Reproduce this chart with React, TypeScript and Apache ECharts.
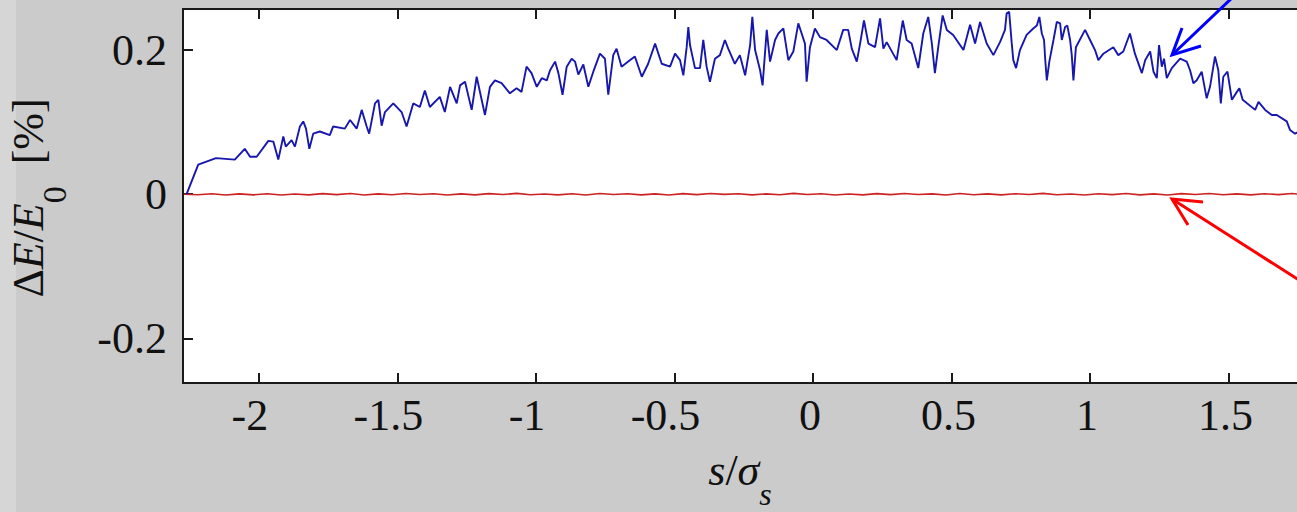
import React, { useEffect, useRef } from "react";
import * as echarts from "echarts";

const xTicks = [-2, -1.5, -1, -0.5, 0, 0.5, 1, 1.5];
const yTicks = [-0.2, 0, 0.2];

const blueX = [
  -2.261, -2.219, -2.155, -2.087, -2.051, -2.032, -2.008, -1.966, -1.948, -1.93,
  -1.912, -1.903, -1.882, -1.87, -1.852, -1.84, -1.83, -1.818, -1.804, -1.78,
  -1.744, -1.732, -1.69, -1.671, -1.647, -1.629, -1.611, -1.602, -1.581, -1.569,
  -1.557, -1.545, -1.515, -1.485, -1.467, -1.443, -1.419, -1.401, -1.383, -1.347,
  -1.329, -1.31, -1.286, -1.274, -1.256, -1.232, -1.214, -1.196, -1.184, -1.166,
  -1.148, -1.124, -1.094, -1.07, -1.052, -1.034, -1.016, -0.997, -0.979, -0.961,
  -0.949, -0.931, -0.919, -0.904, -0.889, -0.871, -0.859, -0.847, -0.829, -0.811,
  -0.793, -0.769, -0.751, -0.739, -0.721, -0.709, -0.691, -0.667, -0.643, -0.618,
  -0.595, -0.57, -0.546, -0.516, -0.498, -0.48, -0.468, -0.456, -0.45, -0.444,
  -0.426, -0.408, -0.396, -0.384, -0.372, -0.354, -0.336, -0.318, -0.306, -0.282,
  -0.264, -0.245, -0.227, -0.219, -0.209, -0.191, -0.182, -0.167, -0.155, -0.137,
  -0.125, -0.107, -0.089, -0.071, -0.053, -0.041, -0.029, -0.023, -0.011, 0.007,
  0.025, 0.049, 0.086, 0.109, 0.127, 0.14, 0.158, 0.17, 0.184, 0.2,
  0.224, 0.242, 0.254, 0.266, 0.302, 0.324, 0.338, 0.356, 0.38, 0.398,
  0.416, 0.429, 0.44, 0.452, 0.468, 0.483, 0.506, 0.543, 0.567, 0.585,
  0.603, 0.627, 0.651, 0.675, 0.693, 0.699, 0.708, 0.717, 0.723, 0.733,
  0.747, 0.771, 0.795, 0.808, 0.817, 0.826, 0.834, 0.838, 0.844, 0.853,
  0.868, 0.88, 0.892, 0.898, 0.91, 0.918, 0.928, 0.934, 0.94, 0.949,
  0.982, 1.0, 1.018, 1.03, 1.048, 1.084, 1.102, 1.12, 1.144, 1.162,
  1.187, 1.199, 1.217, 1.229, 1.241, 1.249, 1.259, 1.267, 1.277, 1.295,
  1.325, 1.349, 1.361, 1.373, 1.385, 1.403, 1.421, 1.433, 1.451, 1.463,
  1.472, 1.481, 1.496, 1.512, 1.53, 1.539, 1.551, 1.596, 1.608, 1.632,
  1.656, 1.674, 1.71, 1.722, 1.74, 1.758,
];

const blueY = [
  0.0, 0.041, 0.05, 0.048, 0.063, 0.052, 0.052, 0.074, 0.073, 0.048,
  0.08, 0.066, 0.075, 0.066, 0.094, 0.101, 0.091, 0.063, 0.084, 0.087,
  0.082, 0.094, 0.091, 0.103, 0.091, 0.117, 0.094, 0.084, 0.126, 0.131,
  0.095, 0.114, 0.126, 0.114, 0.094, 0.126, 0.121, 0.144, 0.121, 0.135,
  0.114, 0.149, 0.126, 0.151, 0.156, 0.117, 0.163, 0.131, 0.11, 0.149,
  0.158, 0.154, 0.14, 0.147, 0.142, 0.177, 0.168, 0.149, 0.161, 0.158,
  0.172, 0.184, 0.168, 0.138, 0.177, 0.188, 0.184, 0.166, 0.18, 0.149,
  0.17, 0.195, 0.188, 0.138, 0.193, 0.202, 0.177, 0.184, 0.191, 0.163,
  0.181, 0.209, 0.181, 0.177, 0.195, 0.186, 0.165, 0.204, 0.232, 0.207,
  0.175, 0.175, 0.214, 0.177, 0.156, 0.188, 0.193, 0.214, 0.202, 0.181,
  0.193, 0.165, 0.207, 0.246, 0.2, 0.172, 0.151, 0.228, 0.184, 0.214,
  0.223, 0.23, 0.186, 0.198, 0.237, 0.223, 0.209, 0.156, 0.204, 0.23,
  0.218, 0.214, 0.2, 0.228, 0.228, 0.202, 0.184, 0.209, 0.241, 0.209,
  0.204, 0.244, 0.202, 0.211, 0.186, 0.241, 0.214, 0.209, 0.175, 0.223,
  0.246, 0.209, 0.168, 0.204, 0.248, 0.228, 0.221, 0.2, 0.235, 0.209,
  0.239, 0.209, 0.193, 0.211, 0.228, 0.251, 0.253, 0.211, 0.186, 0.175,
  0.2, 0.221, 0.23, 0.234, 0.246, 0.223, 0.214, 0.188, 0.158, 0.184,
  0.214, 0.239, 0.237, 0.214, 0.232, 0.234, 0.214, 0.193, 0.158, 0.204,
  0.228, 0.214, 0.2, 0.186, 0.195, 0.204, 0.193, 0.198, 0.223, 0.195,
  0.168, 0.186, 0.198, 0.17, 0.161, 0.207, 0.177, 0.188, 0.161, 0.175,
  0.188, 0.184, 0.172, 0.154, 0.158, 0.17, 0.133, 0.149, 0.191, 0.172,
  0.126, 0.163, 0.17, 0.131, 0.142, 0.147, 0.131, 0.117, 0.128, 0.117,
  0.11, 0.11, 0.101, 0.089, 0.084, 0.088,
];

const redX = [
  -2.27, -2.22, -2.17, -2.12, -2.07, -2.02, -1.97, -1.92, -1.87, -1.82,
  -1.77, -1.72, -1.67, -1.62, -1.57, -1.52, -1.47, -1.42, -1.37, -1.32,
  -1.27, -1.22, -1.17, -1.12, -1.07, -1.02, -0.97, -0.92, -0.87, -0.82,
  -0.77, -0.72, -0.67, -0.62, -0.57, -0.52, -0.47, -0.42, -0.37, -0.32,
  -0.27, -0.22, -0.17, -0.12, -0.07, -0.02, 0.03, 0.08, 0.13, 0.18,
  0.23, 0.28, 0.33, 0.38, 0.43, 0.48, 0.53, 0.58, 0.63, 0.68,
  0.73, 0.78, 0.83, 0.88, 0.93, 0.98, 1.03, 1.08, 1.13, 1.18,
  1.23, 1.28, 1.33, 1.38, 1.43, 1.48, 1.53, 1.58, 1.63, 1.68,
  1.73, 1.78,
];

const redY = [
  0.0, -0.0008, 0.0006, -0.0012, 0.0004, -0.0009, 0.0007, -0.0011, 0.0003, -0.001,
  0.0008, -0.0006, 0.0009, -0.0012, 0.0005, -0.0008, 0.001, -0.0004, 0.0007, -0.0011,
  0.0004, -0.0009, 0.0008, -0.0005, 0.0011, -0.0007, 0.0003, -0.001, 0.0006, -0.0012,
  0.0009, -0.0004, 0.0007, -0.0009, 0.0005, -0.0011, 0.0008, -0.0006, 0.001, -0.0003,
  0.0006, -0.001, 0.0004, -0.0008, 0.0011, -0.0005, 0.0007, -0.0012, 0.0003, -0.0009,
  0.0008, -0.0006, 0.001, -0.0004, 0.0005, -0.0011, 0.0009, -0.0007, 0.0004, -0.001,
  0.0007, -0.0005, 0.0011, -0.0008, 0.0003, -0.0012, 0.0006, -0.0006, 0.0009, -0.0009,
  0.0005, -0.0011, 0.0008, -0.0004, 0.001, -0.0007, 0.0004, -0.001, 0.0007, -0.0006,
  0.0009, -0.0008,
];

const FONT = "'Liberation Serif', 'Times New Roman', serif";
const INK = "#111111";

export default function App() {
  const ref = useRef<HTMLDivElement>(null);

  useEffect(() => {
    if (!ref.current) return;
    const chart = echarts.init(ref.current, null, { renderer: "svg" });

    const axisLineStyle = { color: "#1a1a1a", width: 2 };
    const tickStyle = { color: "#1a1a1a", width: 2 };

    chart.setOption({
      animation: false,
      backgroundColor: "#cbcbcb",
      grid: {
        left: 183,
        right: 0,
        top: 9,
        bottom: 129,
        show: true,
        backgroundColor: "#ffffff",
        borderWidth: 0,
      },
      xAxis: [
        {
          type: "value",
          min: -2.274,
          max: 1.747,
          position: "bottom",
          axisLine: { show: true, onZero: false, lineStyle: axisLineStyle },
          axisTick: { show: true, inside: true, length: 10, customValues: xTicks, lineStyle: tickStyle },
          axisLabel: {
            customValues: xTicks,
            margin: 10,
            fontSize: 44,
            fontFamily: FONT,
            color: INK,
            formatter: (v: number) => (v < 0 ? `{t|${v}}{n| }` : `{t|${v}}{p| }`),
            rich: {
              t: { fontSize: 44, fontFamily: FONT, color: INK },
              n: { fontSize: 44, fontFamily: FONT, width: 18 },
              p: { fontSize: 44, fontFamily: FONT, width: 6 },
            },
          },
          splitLine: { show: false },
        },
        {
          type: "value",
          min: -2.274,
          max: 1.747,
          position: "top",
          axisLine: { show: true, onZero: false, lineStyle: axisLineStyle },
          axisTick: { show: true, inside: true, length: 10, customValues: xTicks, lineStyle: tickStyle },
          axisLabel: { show: false },
          splitLine: { show: false },
        },
      ],
      yAxis: {
        type: "value",
        min: -0.262,
        max: 0.257,
        axisLine: { show: true, onZero: false, lineStyle: axisLineStyle },
        axisTick: { show: true, inside: true, length: 10, customValues: yTicks, lineStyle: tickStyle },
        axisLabel: {
          customValues: yTicks,
          margin: 16,
          fontSize: 44,
          fontFamily: FONT,
          color: INK,
          formatter: (v: number) => String(v),
        },
        splitLine: { show: false },
      },
      series: [
        {
          type: "line",
          xAxisIndex: 0,
          data: redX.map((x, i) => [x, redY[i]]),
          showSymbol: false,
          symbol: "none",
          lineStyle: { color: "#cc2222", width: 1.6 },
        },
        {
          type: "line",
          xAxisIndex: 0,
          data: blueX.map((x, i) => [x, blueY[i]]),
          showSymbol: false,
          symbol: "none",
          lineStyle: { color: "#1717ae", width: 1.9 },
        },
      ],
      graphic: [
        {
          type: "rect",
          left: 0,
          top: 0,
          shape: { x: 0, y: 0, width: 16, height: 512 },
          style: { fill: "#d6d6d6" },
          z: -1,
        },
        {
          type: "group",
          x: 30,
          y: 198,
          rotation: Math.PI / 2,
          children: [
            {
              type: "text",
              style: {
                text: "{m|\u0394}{i|E}{m|/}{i|E}{s|0}{m|  [%]}",
                align: "center",
                verticalAlign: "middle",
                rich: {
                  m: { fontSize: 44, fontFamily: FONT, fill: INK, lineHeight: 48, verticalAlign: "top" },
                  i: { fontSize: 44, fontFamily: FONT, fontStyle: "italic", fill: INK, lineHeight: 48, verticalAlign: "top" },
                  s: { fontSize: 34, fontFamily: FONT, fill: INK, lineHeight: 34, padding: [31, 0, 0, 0], verticalAlign: "top" },
                },
              },
            },
          ],
        },
        {
          type: "group",
          x: 740,
          y: 472,
          children: [
            {
              type: "text",
              style: {
                text: "{i|s}{m|/}{i|\u03c3}{s|s}",
                align: "center",
                verticalAlign: "middle",
                rich: {
                  m: { fontSize: 44, fontFamily: FONT, fill: INK, lineHeight: 48, verticalAlign: "top" },
                  i: { fontSize: 44, fontFamily: FONT, fontStyle: "italic", fill: INK, lineHeight: 48, verticalAlign: "top" },
                  s: { fontSize: 32, fontFamily: FONT, fontStyle: "italic", fill: INK, lineHeight: 32, padding: [30, 0, 0, 0], verticalAlign: "top" },
                },
              },
            },
          ],
        },
        {
          type: "polyline",
          z: 100,
          shape: { points: [[1234, -4], [1172, 55]] },
          style: { stroke: "#0000ff", lineWidth: 3, fill: null },
        },
        {
          type: "polyline",
          z: 100,
          shape: { points: [[1182, 28], [1172, 55], [1201, 46]] },
          style: { stroke: "#0000ff", lineWidth: 3, fill: null },
        },
        {
          type: "polyline",
          z: 100,
          shape: { points: [[1302, 282], [1172, 199]] },
          style: { stroke: "#ff0000", lineWidth: 3, fill: null },
        },
        {
          type: "polyline",
          z: 100,
          shape: { points: [[1203, 202], [1172, 199], [1188, 225]] },
          style: { stroke: "#ff0000", lineWidth: 3, fill: null },
        },
      ],
    });

    return () => chart.dispose();
  }, []);

  return (
    <div
      ref={ref}
      style={{ position: "absolute", left: 0, top: 0, width: 1297, height: 512 }}
    />
  );
}
